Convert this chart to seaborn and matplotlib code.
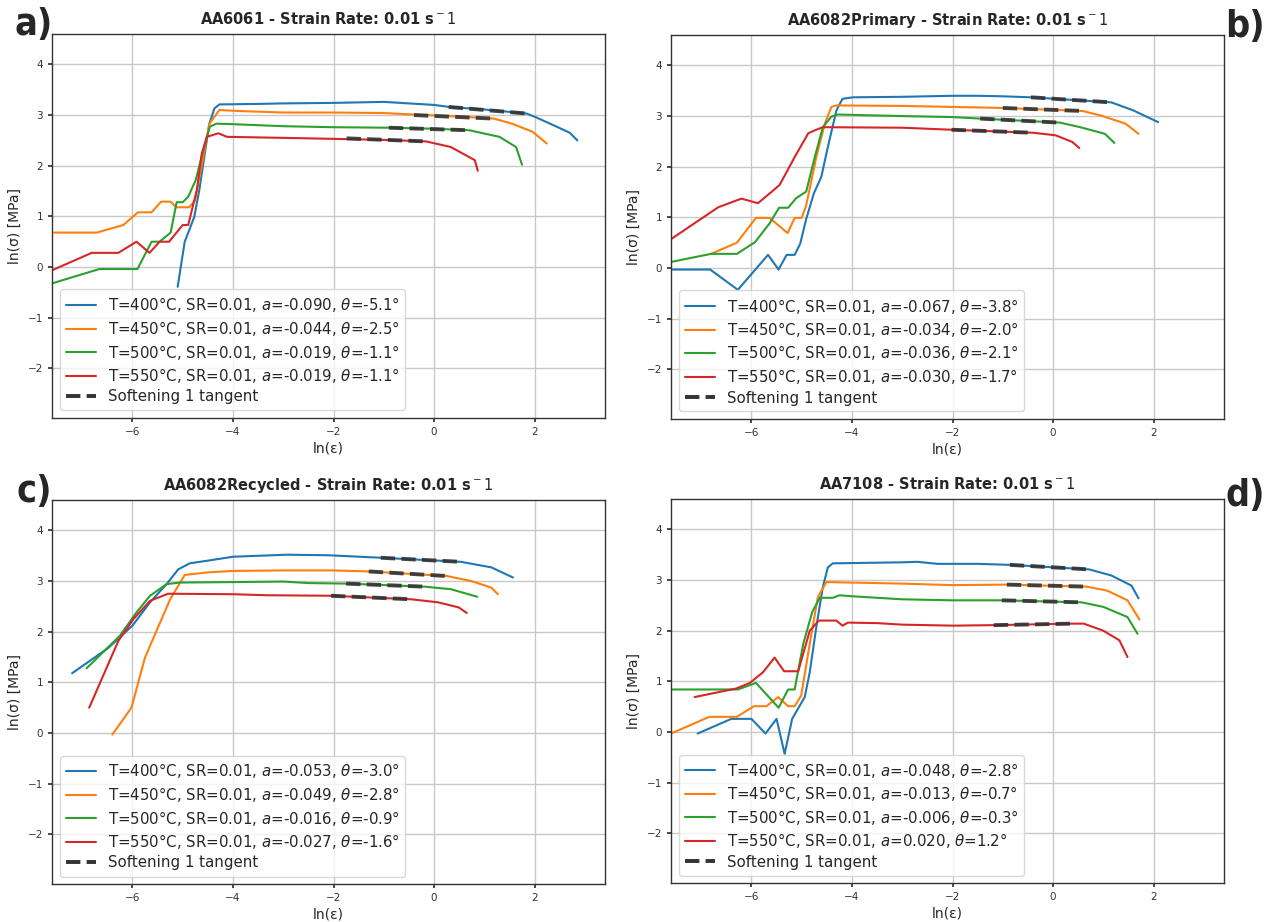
import numpy as np
import pandas as pd
import matplotlib
matplotlib.use("Agg")
import matplotlib.pyplot as plt
import seaborn as sns
from matplotlib.lines import Line2D

# ---------------- data (ln(strain), ln(stress)) ----------------
temps = [400, 450, 500, 550]
colors = ["#1f77b4", "#ff7f0e", "#2ca02c", "#d62728"]

titles = ["AA6061", "AA6082Primary", "AA6082Recycled", "AA7108"]
panel_letters = ["a)", "b)", "c)", "d)"]

# slopes a and angles theta per panel (400,450,500,550 °C)
a_vals = [[-0.090, -0.044, -0.019, -0.019],
          [-0.067, -0.034, -0.036, -0.030],
          [-0.053, -0.049, -0.016, -0.027],
          [-0.048, -0.013, -0.006, 0.020]]
theta_vals = [[-5.1, -2.5, -1.1, -1.1],
              [-3.8, -2.0, -2.1, -1.7],
              [-3.0, -2.8, -0.9, -1.6],
              [-2.8, -0.7, -0.3, 1.2]]

# Panel a: AA6061
a400_x = [-5.10, -4.96, -4.87, -4.77, -4.67, -4.57, -4.47, -4.37, -4.27, -3.5, -3.0, -2.0, -1.0, 0.0, 0.3, 1.0, 1.84, 2.04, 2.44, 2.70, 2.85]
a400_y = [-0.39, 0.50, 0.73, 0.99, 1.52, 2.18, 2.83, 3.13, 3.21, 3.22, 3.23, 3.24, 3.26, 3.20, 3.16, 3.11, 3.03, 2.95, 2.77, 2.65, 2.50]
a450_x = [-7.56, -6.71, -6.18, -5.89, -5.62, -5.43, -5.24, -5.13, -4.87, -4.75, -4.47, -4.27, -3.9, -3.0, -2.0, -1.0, -0.4, 0.5, 1.19, 1.55, 1.96, 2.24]
a450_y = [0.68, 0.68, 0.83, 1.08, 1.08, 1.29, 1.29, 1.18, 1.18, 1.32, 2.83, 3.10, 3.08, 3.05, 3.05, 3.04, 3.01, 2.97, 2.93, 2.83, 2.67, 2.44]
a500_x = [-7.59, -6.66, -5.90, -5.62, -5.46, -5.24, -5.12, -5.00, -4.89, -4.74, -4.59, -4.46, -4.33, -4.0, -3.0, -2.0, -0.9, 0.0, 0.7, 1.3, 1.63, 1.75]
a500_y = [-0.32, -0.04, -0.04, 0.50, 0.50, 0.68, 1.28, 1.28, 1.39, 1.72, 2.31, 2.77, 2.83, 2.82, 2.78, 2.76, 2.75, 2.73, 2.70, 2.57, 2.37, 2.02]
a550_x = [-7.59, -6.81, -6.28, -5.92, -5.66, -5.46, -5.27, -5.00, -4.89, -4.72, -4.62, -4.52, -4.29, -4.12, -3.0, -2.0, -1.0, -0.16, 0.33, 0.81, 0.87]
a550_y = [-0.06, 0.28, 0.28, 0.50, 0.28, 0.50, 0.50, 0.83, 0.83, 1.52, 2.24, 2.57, 2.64, 2.57, 2.55, 2.53, 2.51, 2.48, 2.37, 2.11, 1.90]
a_tan_x = [[0.29, 1.84], [-0.40, 1.19], [-0.90, 0.70], [-1.74, -0.16]]
a_tan_y = [[3.16, 3.03], [3.00, 2.93], [2.75, 2.70], [2.54, 2.48]]

# Panel b: AA6082Primary
b400_x = [-7.60, -6.82, -6.27, -5.67, -5.46, -5.30, -5.14, -5.03, -4.91, -4.76, -4.61, -4.48, -4.31, -4.19, -3.98, -3.0, -2.0, -1.5, -1.0, -0.44, 1.16, 1.60, 2.09]
b400_y = [-0.03, -0.03, -0.43, 0.26, -0.03, 0.26, 0.26, 0.48, 0.97, 1.47, 1.80, 2.39, 3.11, 3.34, 3.37, 3.38, 3.40, 3.40, 3.39, 3.37, 3.27, 3.11, 2.88]
b450_x = [-6.80, -6.29, -5.91, -5.64, -5.28, -5.14, -5.00, -4.91, -4.71, -4.54, -4.41, -4.31, -3.0, -2.0, -1.0, 0.59, 0.95, 1.44, 1.70]
b450_y = [0.28, 0.50, 0.99, 0.99, 0.69, 0.99, 0.99, 1.24, 2.19, 2.85, 3.18, 3.21, 3.20, 3.18, 3.16, 3.10, 3.01, 2.85, 2.65]
b500_x = [-7.60, -6.80, -6.29, -5.93, -5.64, -5.45, -5.27, -5.11, -4.91, -4.74, -4.58, -4.41, -4.28, -3.0, -2.0, -1.45, 0.14, 0.54, 1.03, 1.22]
b500_y = [0.12, 0.28, 0.28, 0.51, 0.88, 1.19, 1.19, 1.38, 1.51, 2.19, 2.78, 2.99, 3.03, 3.00, 2.98, 2.95, 2.87, 2.78, 2.65, 2.47]
b550_x = [-7.60, -6.66, -6.20, -5.87, -5.64, -5.44, -5.14, -4.87, -4.71, -4.58, -3.0, -2.02, -0.39, 0.05, 0.38, 0.52]
b550_y = [0.57, 1.20, 1.37, 1.28, 1.47, 1.64, 2.19, 2.66, 2.73, 2.78, 2.77, 2.73, 2.67, 2.62, 2.49, 2.37]
b_tan_x = [[-0.44, 1.16], [-1.00, 0.59], [-1.45, 0.14], [-2.02, -0.39]]
b_tan_y = [[3.37, 3.27], [3.16, 3.10], [2.95, 2.87], [2.73, 2.67]]

# Panel c: AA6082Recycled
c400_x = [-7.20, -6.48, -6.25, -6.00, -5.65, -5.32, -5.09, -4.86, -4.52, -4.00, -2.93, -2.12, -1.06, 0.53, 1.14, 1.57]
c400_y = [1.18, 1.68, 1.89, 2.12, 2.58, 2.94, 3.23, 3.35, 3.40, 3.48, 3.52, 3.51, 3.46, 3.38, 3.27, 3.07]
c450_x = [-6.40, -6.02, -5.75, -5.52, -5.25, -4.96, -4.52, -4.00, -3.0, -2.0, -1.30, 0.25, 0.74, 1.14, 1.27]
c450_y = [-0.03, 0.50, 1.49, 2.02, 2.64, 3.12, 3.17, 3.20, 3.21, 3.21, 3.19, 3.10, 3.00, 2.87, 2.74]
c500_x = [-6.91, -6.25, -5.92, -5.65, -5.32, -5.06, -4.0, -3.0, -2.5, -1.75, -0.20, 0.33, 0.86]
c500_y = [1.28, 1.92, 2.38, 2.71, 2.94, 2.97, 2.98, 2.99, 2.96, 2.95, 2.89, 2.84, 2.69]
c550_x = [-6.86, -6.28, -5.98, -5.65, -5.29, -4.0, -3.33, -2.05, -0.45, 0.08, 0.49, 0.65]
c550_y = [0.50, 1.82, 2.25, 2.61, 2.75, 2.74, 2.72, 2.71, 2.64, 2.58, 2.48, 2.37]
c_tan_x = [[-1.06, 0.53], [-1.30, 0.25], [-1.75, -0.20], [-2.05, -0.45]]
c_tan_y = [[3.46, 3.38], [3.19, 3.10], [2.95, 2.89], [2.71, 2.64]]

# Panel d: AA7108
d400_x = [-7.07, -6.40, -6.00, -5.72, -5.50, -5.34, -5.19, -4.94, -4.84, -4.71, -4.58, -4.48, -4.38, -3.0, -2.7, -2.3, -1.5, -0.86, 0.72, 1.16, 1.56, 1.70]
d400_y = [-0.03, 0.26, 0.26, -0.03, 0.26, -0.43, 0.26, 0.69, 1.18, 2.07, 2.86, 3.25, 3.33, 3.35, 3.36, 3.32, 3.32, 3.30, 3.21, 3.09, 2.89, 2.64]
d450_x = [-7.60, -6.84, -6.29, -5.95, -5.70, -5.47, -5.27, -5.14, -5.01, -4.84, -4.68, -4.51, -4.0, -3.0, -2.0, -0.92, 0.67, 1.08, 1.48, 1.72]
d450_y = [-0.03, 0.30, 0.30, 0.51, 0.51, 0.69, 0.51, 0.51, 0.72, 1.74, 2.66, 2.96, 2.95, 2.93, 2.90, 2.91, 2.87, 2.79, 2.60, 2.22]
d500_x = [-7.60, -6.27, -5.91, -5.46, -5.27, -5.14, -4.97, -4.79, -4.64, -4.38, -4.25, -4.0, -3.0, -2.0, -1.02, 0.57, 1.00, 1.48, 1.68]
d500_y = [0.84, 0.84, 0.97, 0.48, 0.84, 0.84, 1.74, 2.37, 2.65, 2.65, 2.70, 2.68, 2.62, 2.60, 2.60, 2.56, 2.47, 2.27, 1.94]
d550_x = [-7.13, -6.30, -6.03, -5.77, -5.54, -5.35, -5.07, -4.84, -4.66, -4.31, -4.19, -4.08, -3.5, -3.0, -2.0, -1.18, 0.41, 0.61, 1.00, 1.32, 1.48]
d550_y = [0.69, 0.86, 0.97, 1.18, 1.47, 1.20, 1.20, 2.00, 2.20, 2.20, 2.10, 2.16, 2.15, 2.12, 2.10, 2.11, 2.14, 2.14, 2.00, 1.81, 1.48]
d_tan_x = [[-0.86, 0.72], [-0.92, 0.67], [-1.02, 0.57], [-1.18, 0.41]]
d_tan_y = [[3.30, 3.21], [2.91, 2.87], [2.60, 2.56], [2.11, 2.14]]

panel_curves = [
    [(a400_x, a400_y), (a450_x, a450_y), (a500_x, a500_y), (a550_x, a550_y)],
    [(b400_x, b400_y), (b450_x, b450_y), (b500_x, b500_y), (b550_x, b550_y)],
    [(c400_x, c400_y), (c450_x, c450_y), (c500_x, c500_y), (c550_x, c550_y)],
    [(d400_x, d400_y), (d450_x, d450_y), (d500_x, d500_y), (d550_x, d550_y)],
]
panel_tangents = [(a_tan_x, a_tan_y), (b_tan_x, b_tan_y), (c_tan_x, c_tan_y), (d_tan_x, d_tan_y)]

# ---------------- style ----------------
sns.set_theme(style="ticks")
plt.rcParams.update({
    "font.family": ["DejaVu Sans"],
    "axes.grid": True,
    "grid.color": "#c8c8c8",
    "grid.linewidth": 1.0,
    "axes.edgecolor": "#333333",
    "axes.linewidth": 1.0,
    "xtick.labelsize": 7.5,
    "ytick.labelsize": 7.5,
    "xtick.color": "#333333",
    "ytick.color": "#333333",
    "xtick.major.size": 3,
    "ytick.major.size": 3,
})

W, H = 1265, 922
fig = plt.figure(figsize=(W / 100, H / 100), dpi=100)
fig.patch.set_facecolor("white")

ax_w, ax_h = 553 / W, 384 / H
positions = [
    (52 / W, 1 - 418 / H),
    (671 / W, 1 - 419 / H),
    (52 / W, 1 - 884 / H),
    (671 / W, 1 - 883 / H),
]

for i in range(4):
    ax = fig.add_axes([positions[i][0], positions[i][1], ax_w, ax_h])
    rows = []
    labels = []
    for j, (xs, ys) in enumerate(panel_curves[i]):
        lab = (f"T={temps[j]}°C, SR=0.01, $a$={a_vals[i][j]:.3f}, "
               f"$\\theta$={theta_vals[i][j]:.1f}°")
        labels.append(lab)
        for k, (xv, yv) in enumerate(zip(xs, ys)):
            rows.append({"x": xv, "y": yv, "curve": lab, "order": k})
    df = pd.DataFrame(rows)
    sns.lineplot(data=df, x="x", y="y", hue="curve", hue_order=labels,
                 palette=colors, sort=False, estimator=None, units="curve",
                 lw=1.5, legend=False, ax=ax)
    tx, ty = panel_tangents[i]
    for j in range(4):
        tdf = pd.DataFrame({"x": tx[j], "y": ty[j]})
        sns.lineplot(data=tdf, x="x", y="y", color="#333333", alpha=0.9,
                     lw=2.8, linestyle="--", sort=False, estimator=None,
                     ax=ax, legend=False)
    ax.set_xlim(-7.6, 3.4)
    ax.set_ylim(-2.98, 4.6)
    ax.set_xticks([-6, -4, -2, 0, 2])
    ax.set_yticks([-2, -1, 0, 1, 2, 3, 4])
    ax.grid(True, color="#c8c8c8", lw=1.0)
    ax.set_xlabel("ln(ε)", fontsize=10, labelpad=3)
    ax.set_ylabel("ln(σ) [MPa]", fontsize=10, labelpad=4)
    ax.set_title(f"{titles[i]} - Strain Rate: 0.01 s$^-1$", fontweight="bold",
                 fontsize=10.5, pad=7)
    handles = [Line2D([], [], color=c, lw=1.5) for c in colors]
    handles.append(Line2D([], [], color="#333333", lw=2.8, linestyle="--"))
    ax.legend(handles, labels + ["Softening 1 tangent"], loc="lower left",
              fontsize=10.8, frameon=True, framealpha=0.8, edgecolor="#d0d0d0",
              borderaxespad=0.5, handlelength=2.0, labelspacing=0.3,
              borderpad=0.4)

letter_pos = [(34, 25), (1245, 27), (34, 492), (1245, 496)]
for (px, py), letter in zip(letter_pos, panel_letters):
    fig.text(px / W, 1 - py / H, letter, fontsize=27, fontweight="bold",
             fontstretch="condensed", ha="center", va="center",
             family=["DejaVu Sans"])

fig.savefig("out.png", dpi=100, facecolor="white")
